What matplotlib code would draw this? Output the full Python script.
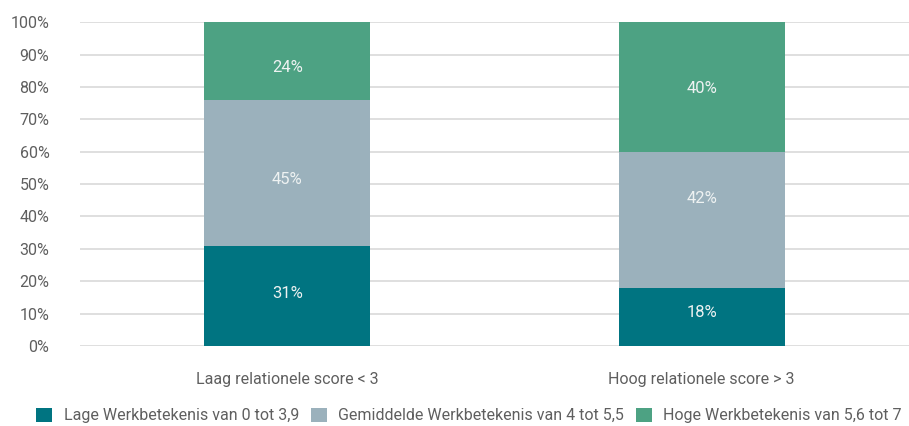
import matplotlib.pyplot as plt
import numpy as np

categories = ["Laag relationele score < 3", "Hoog relationele score > 3"]
series = [
    "Lage Werkbetekenis van 0 tot 3,9",
    "Gemiddelde Werkbetekenis van 4 tot 5,5",
    "Hoge Werkbetekenis van 5,6 tot 7",
]
laag = [31, 18]
gemiddeld = [45, 42]
hoog = [24, 40]

colors = ["#007481", "#9bb1bc", "#4da283"]
text_grey = "#5f5f5f"
# small vertical nudges (points) of the value labels, as in the original
nudges = [[1.5, 3], [-5, 15], [-5, -1]]

plt.rcParams["font.family"] = ["Roboto", "DejaVu Sans"]
plt.rcParams["font.size"] = 11.5

fig = plt.figure(figsize=(9.09, 4.26), dpi=100)
ax = fig.add_axes([0.088, 0.188, 0.912, 0.76])

x = np.arange(len(categories))
bottom = np.zeros(len(categories))
for name, vals, c, nud in zip(series, [laag, gemiddeld, hoog], colors, nudges):
    vals = np.array(vals, dtype=float)
    ax.bar(x, vals, 0.4, bottom=bottom, color=c, label=name, zorder=3)
    for xi, b, v, dy in zip(x, bottom, vals, nud):
        ax.annotate(f"{v:.0f}%", (xi, b + v / 2), xytext=(0, dy), textcoords="offset points",
                    ha="center", va="center", color="#eef2f2", fontsize=12, zorder=4)
    bottom += vals

ax.set_xlim(-0.5, 1.5)
ax.set_ylim(0, 100)
ax.set_yticks(np.arange(0, 101, 10))
ax.set_yticklabels([f"{v}%" for v in range(0, 101, 10)])
ax.set_xticks(x, categories)
ax.grid(axis="y", color="#d9d9d9", linewidth=1.2, zorder=0)
ax.tick_params(axis="both", length=0, colors=text_grey, labelsize=11.5)
ax.tick_params(axis="x", pad=19)
ax.tick_params(axis="y", pad=22)
for s in ax.spines.values():
    s.set_visible(False)

fig.legend(loc="lower center", bbox_to_anchor=(0.516, -0.027), ncols=3, frameon=False,
           handlelength=1.0, handleheight=1.0, handletextpad=0.7, columnspacing=0.75,
           labelcolor=text_grey, fontsize=11.5)

fig.savefig("out.png", dpi=100)
